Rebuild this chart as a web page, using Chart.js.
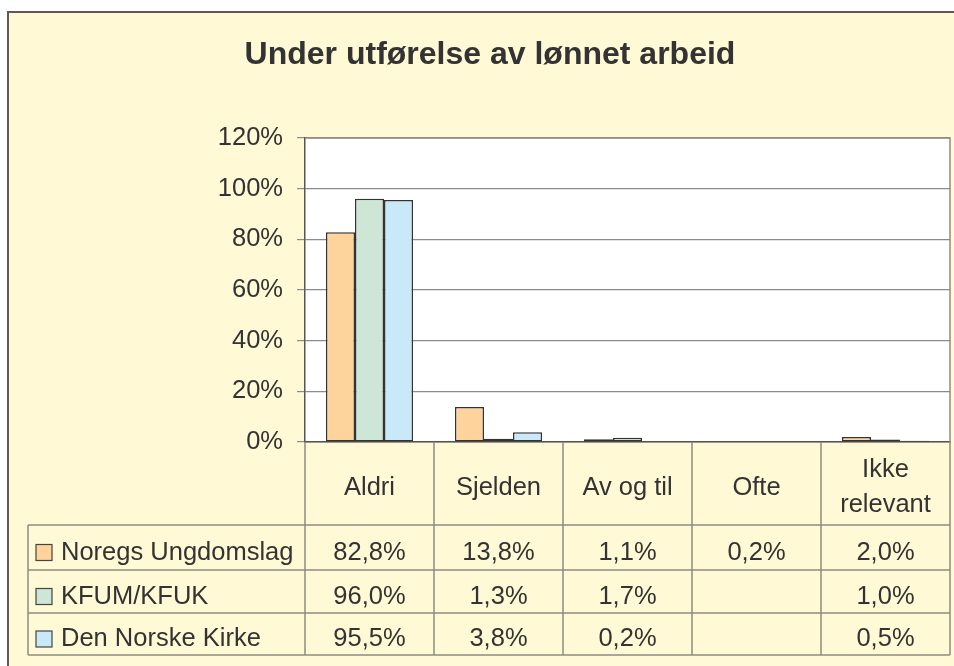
<!DOCTYPE html>
<html>
<head>
<meta charset="utf-8">
<script src="https://cdn.jsdelivr.net/npm/chart.js@4/dist/chart.umd.min.js"></script>
<style>
  html, body { margin: 0; padding: 0; background: #fff; }
  canvas { display: block; }
</style>
</head>
<body>
<canvas id="chart" width="954" height="666"></canvas>
<script>
// data
const chartTitle = "Under utførelse av lønnet arbeid";
const categories = ["Aldri", "Sjelden", "Av og til", "Ofte", ["Ikke", "relevant"]];
const seriesNames = ["Noregs Ungdomslag", "KFUM/KFUK", "Den Norske Kirke"];
const noregsUngdomslag = [82.8, 13.8, 1.1, 0.2, 2.0];
const kfumKfuk = [96.0, 1.3, 1.7, null, 1.0];
const denNorskeKirke = [95.5, 3.8, 0.2, null, 0.5];
const yTicks = [0, 20, 40, 60, 80, 100, 120];

const seriesColors = ["#FFD39C", "#CDE6D5", "#C9E9F9"];
const FONT = "'Liberation Sans', Arial, sans-serif";
const TEXT = "#333333";
const CREAM = "#FFF9D6";
const LINE = "#8C8C84";

function fmt(v) {
  if (v === null || v === undefined) return "";
  return v.toFixed(1).replace(".", ",") + "%";
}

// frame, title and the data table under the plot
const frameTable = {
  id: "frameTable",
  beforeDraw(chart) {
    const ctx = chart.ctx;
    const a = chart.chartArea;
    ctx.save();
    ctx.fillStyle = "#fff";
    ctx.fillRect(0, 0, chart.width, chart.height);
    ctx.fillStyle = CREAM;
    ctx.fillRect(8, 12, chart.width, chart.height);
    ctx.strokeStyle = "#5a5a5a";
    ctx.lineWidth = 2;
    ctx.strokeRect(8, 12, chart.width + 20, chart.height + 20);
    ctx.fillStyle = "#fff";
    ctx.fillRect(a.left, a.top, a.right - a.left, a.bottom - a.top);

    // title
    ctx.fillStyle = TEXT;
    ctx.font = "bold 32px " + FONT;
    ctx.textAlign = "center";
    ctx.textBaseline = "alphabetic";
    ctx.fillText(chartTitle, 490, 64);
    ctx.restore();
  },
  afterDraw(chart) {
    const ctx = chart.ctx;
    const a = chart.chartArea;
    const x = chart.scales.x;
    const colW = (a.right - a.left) / categories.length;
    const headerBottom = 525;
    const rowBounds = [525, 570, 613, 655];
    const legendLeft = 28;
    const rows = [noregsUngdomslag, kfumKfuk, denNorskeKirke];

    ctx.save();
    // plot border top/right
    ctx.strokeStyle = LINE;
    ctx.lineWidth = 1.5;
    ctx.beginPath();
    ctx.moveTo(a.left, a.top);
    ctx.lineTo(a.right, a.top);
    ctx.lineTo(a.right, a.bottom);
    ctx.stroke();

    // table lines
    ctx.beginPath();
    for (let i = 0; i <= categories.length; i++) {
      const xp = x.getPixelForValue(0) - colW / 2 + i * colW;
      ctx.moveTo(xp, a.bottom);
      ctx.lineTo(xp, rowBounds[rowBounds.length - 1]);
    }
    rowBounds.forEach(yp => {
      ctx.moveTo(legendLeft, yp);
      ctx.lineTo(a.right, yp);
    });
    ctx.moveTo(legendLeft, rowBounds[0]);
    ctx.lineTo(legendLeft, rowBounds[rowBounds.length - 1]);
    ctx.stroke();

    // header labels
    ctx.fillStyle = TEXT;
    ctx.font = "25.5px " + FONT;
    ctx.textAlign = "center";
    ctx.textBaseline = "middle";
    const headerMid = (a.bottom + headerBottom) / 2 + 4;
    categories.forEach((c, i) => {
      const lines = Array.isArray(c) ? c : [c];
      const lh = 35;
      lines.forEach((ln, j) => {
        const yp = headerMid + (j - (lines.length - 1) / 2) * lh;
        ctx.fillText(ln, x.getPixelForValue(i), yp);
      });
    });

    // rows
    rows.forEach((vals, r) => {
      const mid = (rowBounds[r] + rowBounds[r + 1]) / 2 + 5;
      ctx.fillStyle = seriesColors[r];
      ctx.fillRect(36, mid - 8, 16, 16);
      ctx.strokeStyle = "#444";
      ctx.lineWidth = 1.2;
      ctx.strokeRect(36, mid - 8, 16, 16);
      ctx.fillStyle = TEXT;
      ctx.textAlign = "left";
      ctx.fillText(seriesNames[r], 61, mid);
      ctx.textAlign = "center";
      vals.forEach((v, i) => {
        ctx.fillText(fmt(v), x.getPixelForValue(i), mid);
      });
    });
    ctx.restore();
  }
};

const ctx = document.getElementById("chart").getContext("2d");
new Chart(ctx, {
  type: "bar",
  data: {
    labels: categories,
    datasets: [noregsUngdomslag, kfumKfuk, denNorskeKirke].map((d, i) => ({
      label: seriesNames[i],
      data: d,
      backgroundColor: seriesColors[i],
      borderColor: "#333",
      borderWidth: 1.5,
      borderSkipped: false,
      barPercentage: 1,
      categoryPercentage: 0.675
    }))
  },
  options: {
    responsive: false,
    animation: false,
    layout: { padding: { left: 0, right: 4, top: 138, bottom: 224 } },
    plugins: {
      legend: { display: false },
      title: { display: false },
      tooltip: { enabled: false }
    },
    scales: {
      x: {
        ticks: { display: false },
        grid: { display: false },
        border: { color: "#555", width: 1.5 },
        afterFit(scale) { scale.height = 0; }
      },
      y: {
        min: 0,
        max: 120,
        afterBuildTicks(scale) { scale.ticks = yTicks.map(v => ({ value: v })); },
        ticks: {
          color: TEXT,
          font: { family: FONT, size: 25.5 },
          padding: 14,
          callback: v => v + "%"
        },
        grid: { color: LINE, lineWidth: 1.2, tickLength: 8 },
        border: { color: "#555", width: 1.5 },
        afterFit(scale) { scale.width = 305; }
      }
    }
  },
  plugins: [frameTable]
});
</script>
</body>
</html>
